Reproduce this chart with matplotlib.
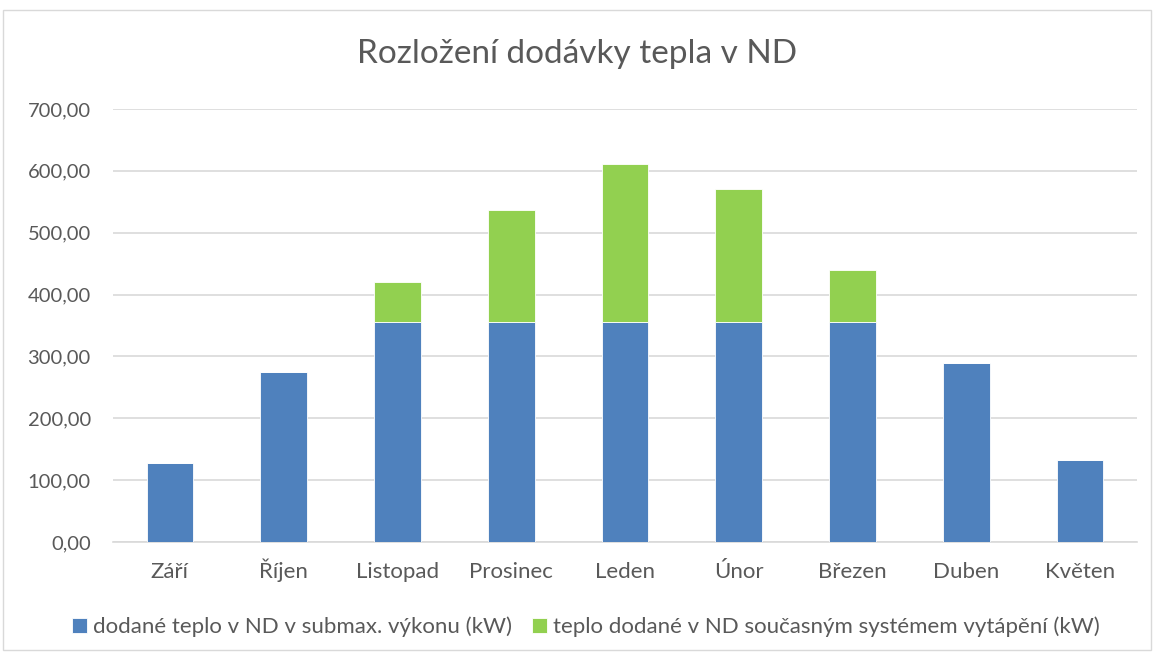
import matplotlib.pyplot as plt
import numpy as np

# Data
months = ['Září', 'Říjen', 'Listopad', 'Prosinec', 'Leden', 'Únor', 'Březen', 'Duben', 'Květen']
submax = [128, 275, 355, 355, 355, 355, 355, 290, 133]
current = [0, 0, 65, 181, 256, 215, 85, 0, 0]
labels = ['dodané teplo v ND v submax. výkonu (kW)',
          'teplo dodané v ND současným systémem vytápění (kW)']
yticks = [0, 100, 200, 300, 400, 500, 600, 700]

plt.rcParams['font.family'] = ['Lato', 'DejaVu Sans']
text_col = '#595959'

fig = plt.figure(figsize=(11.54, 6.57), dpi=100)
ax = fig.add_axes([113 / 1154, 1 - 542 / 657, (1137 - 113) / 1154, (542 - 109) / 657])

x = np.arange(len(months))
ax.bar(x, submax, width=0.41, color='#4F81BD', edgecolor='white', linewidth=0.6,
       label=labels[0], zorder=3)
ax.bar(x, current, bottom=submax, width=0.41, color='#92D050', edgecolor='white',
       linewidth=0.6, label=labels[1], zorder=3)

ax.set_xlim(-0.5, len(months) - 0.5)
ax.set_ylim(0, 700)
ax.set_yticks(yticks)
ax.set_yticklabels([f'{v:.2f}'.replace('.', ',') for v in yticks])
ax.set_xticks(x)
ax.set_xticklabels(months)
ax.tick_params(axis='both', length=0, colors=text_col)
ax.tick_params(axis='x', labelsize=16, pad=26)
ax.tick_params(axis='y', labelsize=14.5, pad=16)
for lab in ax.get_xticklabels():
    lab.set_va('baseline')
ax.grid(axis='y', color='#D9D9D9', linewidth=1.2, zorder=0)
for s in ['top', 'right', 'left']:
    ax.spines[s].set_visible(False)
ax.spines['bottom'].set_color('#D9D9D9')
ax.spines['bottom'].set_linewidth(1.2)

fig.text(0.5, 1 - 54 / 657, 'Rozložení dodávky tepla v ND', ha='center', va='center',
         fontsize=24, color=text_col)

fig.legend(loc='center', bbox_to_anchor=(0.508, 1 - 627 / 657), ncol=2, frameon=False,
           fontsize=16, handlelength=0.65, handleheight=0.65, handletextpad=0.3,
           columnspacing=0.9, labelcolor=text_col)

# chart border
fig.patches.append(plt.Rectangle((3 / 1154, 1 - 650 / 657), 1 - 6 / 1154, (650 - 10) / 657,
                                 transform=fig.transFigure, fill=False,
                                 edgecolor='#D9D9D9', linewidth=1))

fig.savefig('out.png', dpi=100)
